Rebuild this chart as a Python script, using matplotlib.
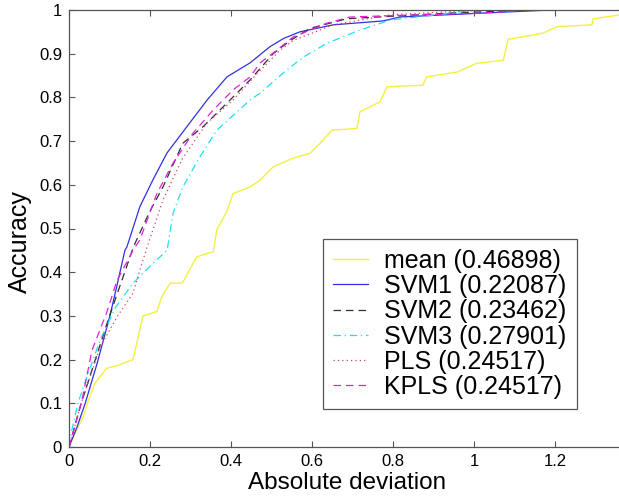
import matplotlib
matplotlib.use("Agg")
import matplotlib.pyplot as plt
from matplotlib.ticker import FuncFormatter

plt.rcParams['font.family'] = ['Liberation Sans', 'DejaVu Sans']

# curves (absolute deviation, accuracy)
mean_x = [0, 0.019, 0.035, 0.048, 0.064, 0.093, 0.121, 0.158, 0.175, 0.183, 0.217, 0.229,
          0.25, 0.28, 0.315, 0.356, 0.365, 0.39, 0.405, 0.447, 0.472, 0.504, 0.553, 0.595,
          0.62, 0.649, 0.711, 0.718, 0.768, 0.785, 0.874, 0.883, 0.958, 1.007, 1.072, 1.084,
          1.17, 1.205, 1.291, 1.294, 1.37]
mean_y = [0, 0.039, 0.069, 0.107, 0.146, 0.18, 0.187, 0.2, 0.27, 0.30, 0.31, 0.344,
          0.375, 0.375, 0.435, 0.447, 0.497, 0.54, 0.58, 0.595, 0.611, 0.641, 0.661, 0.672,
          0.695, 0.725, 0.729, 0.767, 0.79, 0.824, 0.828, 0.847, 0.858, 0.878, 0.885, 0.933,
          0.947, 0.962, 0.966, 0.98, 0.99]

svm1_x = [0, 0.002, 0.02, 0.04, 0.069, 0.101, 0.121, 0.138, 0.143, 0.175, 0.207, 0.242,
          0.291, 0.341, 0.39, 0.447, 0.496, 0.53, 0.57, 0.652, 0.775, 0.817, 1.022, 1.188]
svm1_y = [0, 0.005, 0.046, 0.10, 0.19, 0.30, 0.38, 0.45, 0.458, 0.55, 0.611, 0.673,
          0.733, 0.794, 0.847, 0.879, 0.916, 0.935, 0.95, 0.966, 0.975, 0.984, 0.993, 1.0]

svm2_x = [0, 0.03, 0.065, 0.1, 0.13, 0.16, 0.2, 0.232, 0.281, 0.331, 0.39, 0.447,
          0.504, 0.546, 0.595, 0.686, 0.94, 1.146]
svm2_y = [0, 0.1, 0.2, 0.3, 0.38, 0.46, 0.54, 0.595, 0.695, 0.733, 0.787, 0.84,
          0.9, 0.93, 0.958, 0.98, 0.993, 1.0]

svm3_x = [0, 0.007, 0.022, 0.044, 0.077, 0.114, 0.158, 0.207, 0.242, 0.257, 0.281, 0.323,
          0.365, 0.447, 0.472, 0.529, 0.578, 0.637, 0.718, 0.793, 1.007]
svm3_y = [0, 0.039, 0.1, 0.16, 0.245, 0.318, 0.375, 0.42, 0.45, 0.535, 0.595, 0.664,
          0.725, 0.794, 0.81, 0.856, 0.892, 0.924, 0.954, 0.977, 1.0]

pls_x = [0, 0.03, 0.077, 0.12, 0.158, 0.175, 0.193, 0.232, 0.28, 0.34, 0.405, 0.46,
         0.521, 0.553, 0.652, 0.793, 1.02]
pls_y = [0, 0.1, 0.229, 0.3, 0.352, 0.405, 0.458, 0.565, 0.66, 0.741, 0.794, 0.85,
         0.908, 0.93, 0.966, 0.989, 1.0]

kpls_x = [0, 0.007, 0.032, 0.057, 0.094, 0.118, 0.158, 0.175, 0.217, 0.257, 0.306, 0.356,
          0.405, 0.447, 0.472, 0.513, 0.553, 0.637, 0.694, 0.859, 1.022, 1.146]
kpls_y = [0, 0.023, 0.107, 0.222, 0.31, 0.38, 0.45, 0.474, 0.58, 0.65, 0.718, 0.771,
          0.817, 0.847, 0.879, 0.908, 0.938, 0.97, 0.984, 0.989, 0.993, 1.0]

labels = ['mean (0.46898)', 'SVM1 (0.22087)', 'SVM2 (0.23462)',
          'SVM3 (0.27901)', 'PLS (0.24517)', 'KPLS (0.24517)']

fig = plt.figure(figsize=(6.19, 4.99), dpi=100)
ax = fig.add_axes([69 / 619, 52 / 499, 556 / 619, 437 / 499])

ax.plot(mean_x, mean_y, color='#f4f040', lw=1.0, label=labels[0])
ax.plot(svm1_x, svm1_y, color='#3030e0', lw=0.9, label=labels[1])
ax.plot(svm2_x, svm2_y, color='#303030', lw=0.9, ls=(0, (6, 4)), label=labels[2])
ax.plot(svm3_x, svm3_y, color='#20e0f0', lw=0.9, ls=(0, (6, 3, 1, 3)), label=labels[3])
ax.plot(pls_x, pls_y, color='#e04060', lw=0.9, ls=(0, (1, 2.5)), label=labels[4])
ax.plot(kpls_x, kpls_y, color='#e020e0', lw=0.9, ls=(0, (6, 4)), label=labels[5])

ax.set_xlim(0, 1.3726)
ax.set_ylim(0, 1)
ax.set_xticks([0, 0.2, 0.4, 0.6, 0.8, 1, 1.2])
ax.set_yticks([i / 10 for i in range(11)])
fmt = FuncFormatter(lambda v, p: '%g' % round(v, 2))
ax.xaxis.set_major_formatter(fmt)
ax.yaxis.set_major_formatter(fmt)
ax.tick_params(direction='in', length=4, width=0.8, color='#555555',
               labelsize=12, top=True, right=True, pad=5)
for s in ax.spines.values():
    s.set_color('#555555')
    s.set_linewidth(0.9)

ax.set_xlabel('Absolute deviation', fontsize=17.5)
ax.set_ylabel('Accuracy', fontsize=18)
ax.xaxis.set_label_coords(0.5, -0.058)
ax.yaxis.set_label_coords(-0.066, 0.471)

leg = ax.legend(loc='upper left', bbox_to_anchor=(323 / 619, 1 - 239 / 499),
                bbox_transform=fig.transFigure, fontsize=18, labelspacing=0.05,
                handlelength=1.4, handletextpad=0.65, borderpad=0.4,
                borderaxespad=0, fancybox=False, framealpha=1)
leg.get_frame().set_edgecolor('#555555')
leg.get_frame().set_linewidth(0.9)

fig.savefig('out.png', dpi=100)
